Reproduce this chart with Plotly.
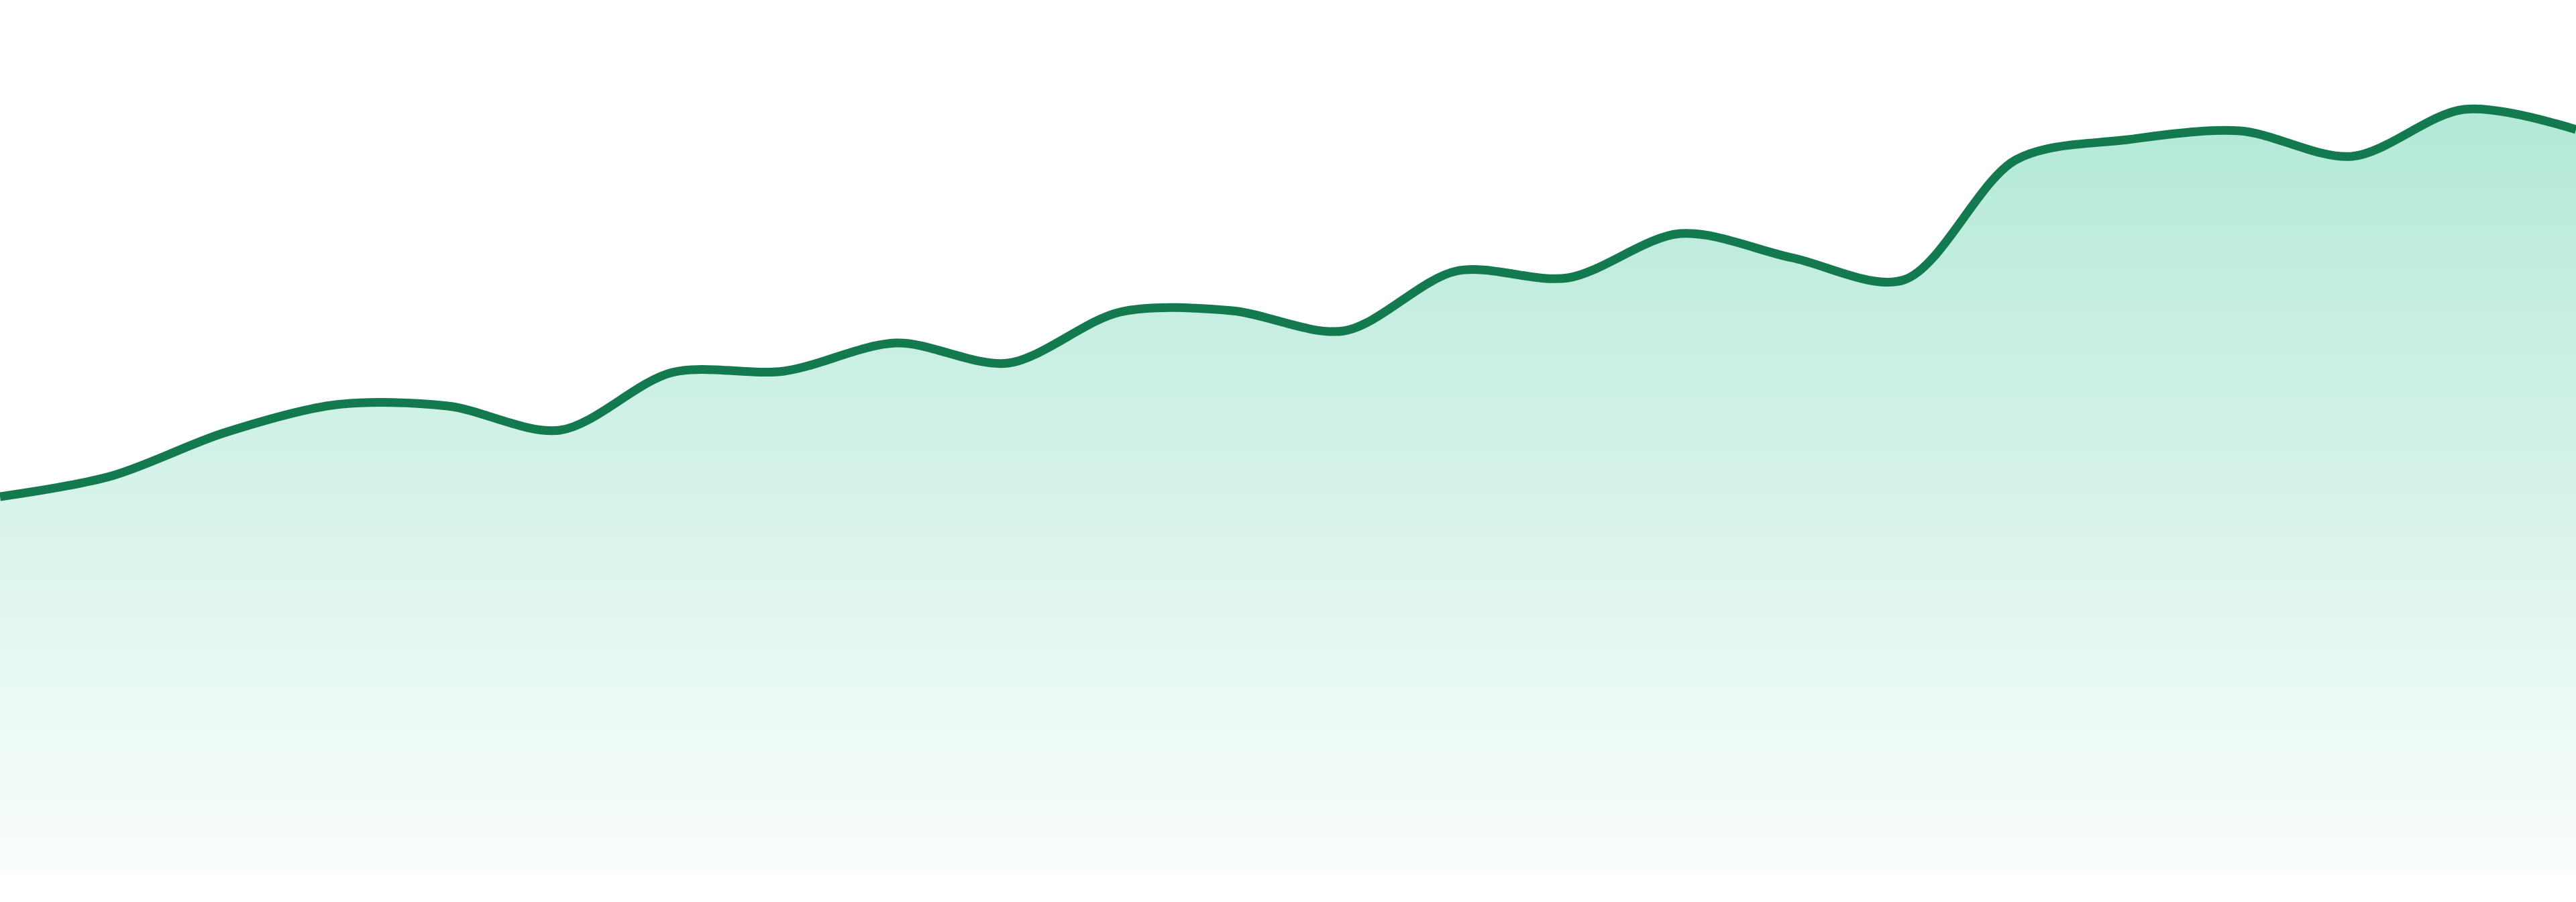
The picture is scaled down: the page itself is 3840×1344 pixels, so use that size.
import plotly.graph_objects as go

# 24 evenly spaced samples
periods = list(range(24))
values = [56.5, 59.6, 66.0, 70.2, 70.0, 66.4, 75.0, 75.2, 79.4, 76.4, 84.0, 84.2,
          81.2, 90.1, 89.1, 95.7, 92.1, 88.8, 106.7, 109.7, 111.0, 107.2, 114.2, 111.2]

line_color = '#137a4f'

fig = go.Figure()
fig.add_trace(go.Scatter(
    x=periods, y=values,
    mode='lines',
    line=dict(color=line_color, width=13, shape='spline', smoothing=0.9),
    fill='tozeroy',
    fillgradient=dict(type='vertical', start=0, stop=max(values),
                      colorscale=[[0, 'rgba(16,185,129,0.02)'],
                                  [1, 'rgba(16,185,129,0.32)']]),
    hoverinfo='skip',
))

fig.update_layout(
    width=3840, height=1344,
    margin=dict(l=0, r=0, t=0, b=0),
    paper_bgcolor='white', plot_bgcolor='white',
    showlegend=False,
    xaxis=dict(range=[periods[0], periods[-1]], visible=False, fixedrange=True),
    yaxis=dict(range=[-3.9, 130.5], visible=False, fixedrange=True),
)

# drop the default page margin so the chart sits flush with the window
fig.write_html("out.html", config={'displayModeBar': False},
               post_script="document.body.style.margin='0';document.body.style.overflow='hidden';")
